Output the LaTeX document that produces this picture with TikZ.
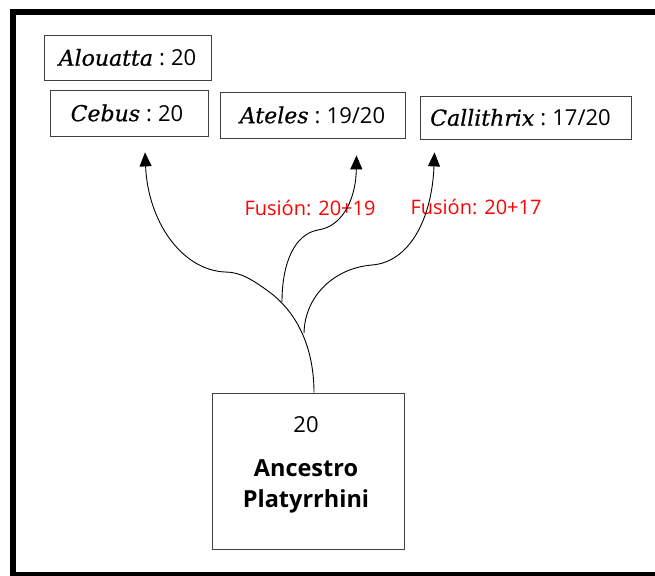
\documentclass[tikz,border=0pt]{standalone}
\usepackage{fontspec}
\setmainfont{Open Sans}
\newfontfamily\namefont{DejaVu Serif}[ItalicFeatures={FakeBold=0.6}]
\usetikzlibrary{arrows.meta,calc}
\tikzset{
  spbox/.style={draw=black!75, line width=0.8pt, minimum height=#1, inner sep=0pt, font=\fontsize{22}{24}\selectfont},
  branch/.style={line width=0.9pt, -{Triangle[length=14pt,width=12pt]}},
  fuse/.style={text=red, font=\fontsize{20}{22}\selectfont, inner sep=0pt},
}
\newcommand{\spn}[1]{{\namefont\itshape\fontsize{22}{24}\selectfont #1}}
\begin{document}
\begin{tikzpicture}[x=1pt,y=-1pt]
\useasboundingbox (0,0) rectangle (655,575);
\begin{scope}
\clip (0,0) rectangle (655,575);
\draw[line width=6pt] (670,12) -- (13,12) -- (13,575) -- (670,575);
\end{scope}
\node[spbox=45pt, minimum width=167pt] (alo) at (127.5,57.5) {\spn{Alouatta}\;:\;20};
\node[spbox=46pt, minimum width=158pt] (ceb) at (129,113) {\spn{Cebus}\;:\;20\hspace*{4pt}};
\node[spbox=46pt, minimum width=185pt] (ate) at (312.5,115) {\spn{Ateles}\;:\;19/20};
\node[spbox=43pt, minimum width=211pt] (cal) at (525.5,117.5) {\spn{Callithrix}\;:\;17/20\hspace*{10pt}};
\node[draw=black!75, line width=0.8pt, minimum width=192pt, minimum height=156pt, inner sep=0pt] (anc) at (308,471) {};
\node[font=\fontsize{22}{24}\selectfont, inner sep=0pt] (n20) at (306,425) {20};
\node[font=\fontsize{23.5}{24}\selectfont\bfseries, inner sep=0pt] (n1) at (306,468) {Ancestro};
\node[font=\fontsize{23.5}{24}\selectfont\bfseries, inner sep=0pt] (n2) at (306,501) {Platyrrhini};
\node[fuse] (f1) at (310,208) {Fusión: 20+19};
\node[fuse] (f2) at (476,207) {Fusión: 20+17};
\coordinate (root) at ($(anc.north)+(6,0)$);
\coordinate (tceb) at ($(ceb.south)+(16,16)$);
\coordinate (tate) at ($(ate.south)+(44,17)$);
\coordinate (tcal) at ($(cal.south)+(-91,13)$);
\coordinate (j1) at (282,302);
\coordinate (j2) at (304,333);
\draw[branch] (root) .. controls (314,355) and (302,318) .. (272,294)
  .. controls (252,279) and (240,272) .. (225,272)
  .. controls (182,270) and (148,222) .. (tceb);
\draw[branch] (j1) .. controls (282,262) and (295,234) .. (318,230)
  .. controls (345,226) and (356,195) .. (tate);
\draw[branch] (j2) .. controls (305,295) and (335,268) .. (372,265)
  .. controls (410,262) and (432,218) .. (tcal);
\end{tikzpicture}
\end{document}
